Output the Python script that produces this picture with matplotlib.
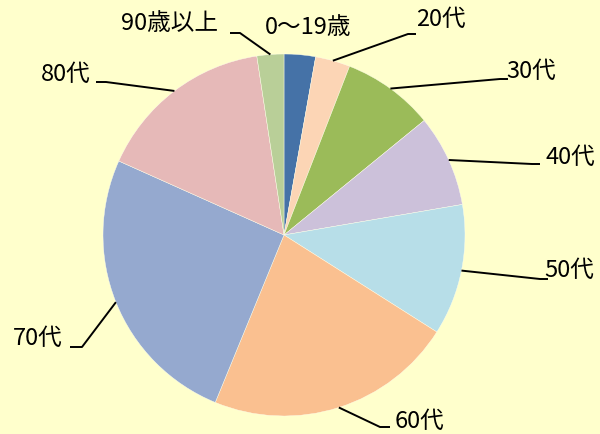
import numpy as np
import matplotlib
matplotlib.use("Agg")
import matplotlib.pyplot as plt

plt.rcParams['font.family'] = ['Noto Sans CJK JP', 'DejaVu Sans']

# data (percent)
labels = ['0～19歳', '20代', '30代', '40代', '50代', '60代', '70代', '80代', '90歳以上']
values = [2.8, 3.1, 8.2, 8.2, 11.7, 22.2, 25.5, 15.9, 2.4]
colors = ['#4572A7', '#FCD5B5', '#9BBB59', '#CCC1DA', '#B7DEE8',
          '#FAC090', '#95A9CF', '#E6B9B8', '#B9CF98']

# layout (pixel coords, origin top-left)
W, H = 600, 434
cx, cy, r = 284, 235, 181
text_pos = [(308, 27), (441, 19), (531, 71), (570, 157), (569, 270),
            (420, 421), (38, 338), (66, 74), (169, 24)]
elbow = [None, (408, 34), (500, 79), (532, 164), (540, 279),
         (380, 427), (82, 347), (106, 82), (240, 33)]
elbow_end = [None, (416, 34), (508, 79), (540, 164), (548, 279),
             (390, 427), (70, 347), (96, 82), (230, 33)]

fig = plt.figure(figsize=(W / 100, H / 100), dpi=100, facecolor='#FFFFCC')
ax = fig.add_axes([0, 0, 1, 1])
ax.set_facecolor('#FFFFCC')
ax.axis('off')

wedges, _ = ax.pie(values, colors=colors, startangle=90, counterclock=False,
                   center=(cx, H - cy), radius=r,
                   wedgeprops=dict(edgecolor='#FFFFEE', linewidth=0.3))
ax.set_xlim(0, W)
ax.set_ylim(0, H)

for i, w in enumerate(wedges):
    ang = np.deg2rad((w.theta1 + w.theta2) / 2)
    px = cx + r * np.cos(ang)
    py = (H - cy) + r * np.sin(ang)
    if elbow[i] is not None:
        ex, ey = elbow[i]
        fx, fy = elbow_end[i]
        ax.plot([px, ex, fx], [py, H - ey, H - fy], color='black', lw=1.4,
                solid_capstyle='butt')
    tx, ty = text_pos[i]
    ax.text(tx, H - ty, labels[i], fontsize=17, ha='center', va='center',
            color='black')

fig.savefig('out.png', dpi=100, facecolor=fig.get_facecolor())
